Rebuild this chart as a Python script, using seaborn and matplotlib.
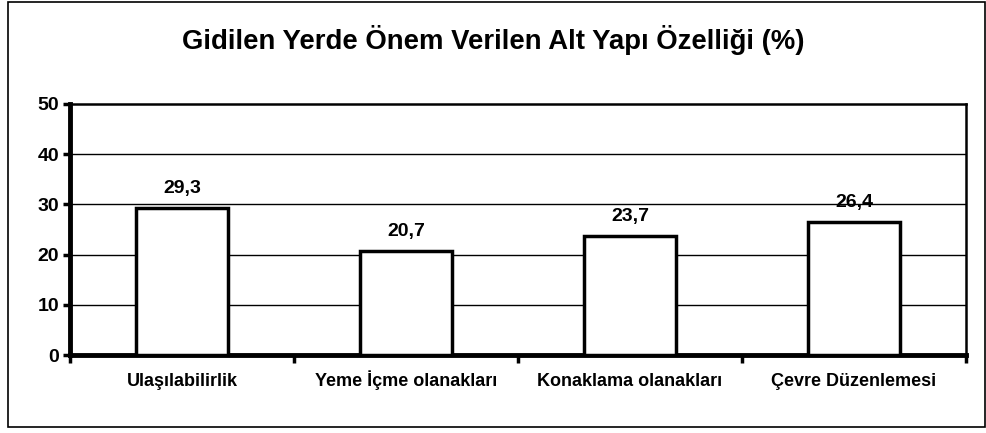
import matplotlib
matplotlib.use("Agg")
import matplotlib.pyplot as plt
import seaborn as sns
import pandas as pd
from matplotlib.patches import Rectangle
from matplotlib.ticker import FixedLocator

categories = ["Ulaşılabilirlik", "Yeme İçme olanakları", "Konaklama olanakları", "Çevre Düzenlemesi"]
values = [29.3, 20.7, 23.7, 26.4]
value_labels = ["29,3", "20,7", "23,7", "26,4"]
yticks = [0, 10, 20, 30, 40, 50]
title = "Gidilen Yerde Önem Verilen Alt Yapı Özelliği (%)"

sns.set_theme(style="white")
plt.rcParams['font.family'] = ['Liberation Sans', 'DejaVu Sans']
plt.rcParams['text.color'] = 'black'
plt.rcParams['xtick.color'] = 'black'
plt.rcParams['ytick.color'] = 'black'

df = pd.DataFrame({"cat": categories, "val": values})

fig = plt.figure(figsize=(9.87, 4.33), dpi=100)
ax = fig.add_axes([70/987, 1-355/433, 896/987, 251/433])

sns.barplot(data=df, x="cat", y="val", ax=ax, color="white", edgecolor="black",
            linewidth=2.5, width=0.41, saturation=1, zorder=3)

ax.set_ylim(0, 50)
ax.set_xlim(-0.5, 3.5)
ax.set_yticks(yticks)
ax.set_yticklabels([str(t) for t in yticks], fontsize=14, fontweight="bold", color="black")
ax.set_xlabel("")
ax.set_ylabel("")
ax.tick_params(axis="x", which="major", length=0, pad=22, labelsize=13, labelcolor="black")
for lab in ax.get_xticklabels():
    lab.set_fontweight("bold")
    lab.set_verticalalignment("baseline")
ax.xaxis.set_minor_locator(FixedLocator([-0.5, 0.5, 1.5, 2.5, 3.5]))
ax.tick_params(axis="x", which="minor", bottom=True, length=6, width=2.5, color="black", direction="out")
ax.tick_params(axis="y", which="major", left=True, length=5, width=2.5, color="black", direction="out", pad=3)

for y in yticks[1:-1]:
    ax.axhline(y, color="black", linewidth=1, zorder=1)

for s in ["left", "bottom"]:
    ax.spines[s].set_linewidth(3.5)
    ax.spines[s].set_color("black")
for s in ["top", "right"]:
    ax.spines[s].set_linewidth(1.8)
    ax.spines[s].set_color("black")
    ax.spines[s].set_visible(True)

for i, (v, lab) in enumerate(zip(values, value_labels)):
    ax.text(i, v + 3.0, lab, ha="center", va="baseline", fontsize=14, fontweight="bold",
            color="black", zorder=4)

fig.text(0.5, 1-40/433, title, ha="center", va="center", fontsize=19.8, fontweight="bold", color="black")

fig.patches.append(Rectangle((8/987, 1-427/433), 977/987, 425/433, transform=fig.transFigure,
                             fill=False, edgecolor="black", linewidth=1.2))

fig.savefig("out.png", dpi=100)
